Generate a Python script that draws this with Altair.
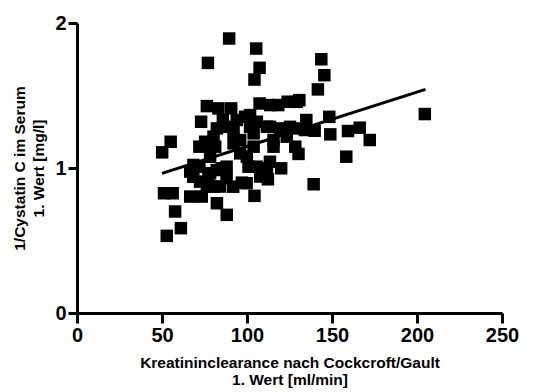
import altair as alt
import pandas as pd

# Scatter points: creatinine clearance (x) vs 1/Cystatin C (y)
clearance = [89.5, 105.4, 77.0, 107.4, 104.4, 143.7, 145.5, 141.7, 204.6, 50.1,
             55.1, 73.0, 76.4, 83.2, 90.7, 107.4, 113.7, 123.9, 130.8, 98.9,
             105.8, 134.9, 148.4, 149.0, 139.8, 159.4, 166.3, 172.2, 158.4, 139.2,
             128.4, 130.3, 120.1, 111.7, 112.3, 104.4, 97.0, 88.1, 82.3, 84.2,
             85.2, 51.2, 56.3, 57.7, 61.1, 52.8, 66.6, 73.4, 66.6, 72.0,
             72.4, 76.4, 72.0, 75.4, 80.3, 82.3, 85.8, 94.0, 92.1, 96.0,
             99.9, 100.9, 103.9, 111.7, 115.6, 119.5, 115.6, 107.8, 78.3, 81.3,
             92.1, 103.9, 78.3, 68.5, 127.4, 123.4, 96.0,
             88.0, 101.8, 101.8, 113.5, 125.3, 134.0, 77.3, 88.0, 105.7, 113.5,
             99.8, 91.9, 88.0, 77.3, 82.2, 80.2, 68.4, 118.4, 129.2]
inv_cystatin = [1.893, 1.824, 1.725, 1.691, 1.610, 1.750, 1.640, 1.542, 1.372, 1.108,
                1.181, 1.319, 1.427, 1.411, 1.411, 1.445, 1.434, 1.457, 1.468, 1.353,
                1.319, 1.331, 1.353, 1.232, 1.257, 1.255, 1.278, 1.193, 1.078, 0.888,
                1.147, 1.097, 0.998, 0.998, 0.922, 0.808, 0.899, 0.677, 0.757, 0.872,
                0.998, 0.826, 0.826, 0.700, 0.585, 0.532, 0.803, 0.803, 0.975, 1.009,
                0.906, 0.872, 1.147, 1.181, 1.216, 1.273, 1.331, 1.331, 1.170, 1.101,
                1.078, 1.009, 1.147, 1.285, 1.193, 1.273, 1.147, 0.941, 1.078, 1.147,
                1.250, 1.239, 0.964, 1.021, 1.273, 1.216, 1.193,
                1.284, 1.365, 1.284, 1.284, 1.284, 1.262, 1.158, 1.009, 1.009, 1.043,
                0.895, 0.871, 0.929, 0.952, 0.986, 0.871, 0.940, 1.434, 1.456]

# Regression line endpoints
fit_x = [50.0, 205.0]
fit_y = [0.963, 1.542]

x_ticks = [0, 50, 100, 150, 200, 250]
y_ticks = [0, 1, 2]

pts = pd.DataFrame({"x": clearance, "y": inv_cystatin})
fit = pd.DataFrame({"x": fit_x, "y": fit_y})

FONT = "Liberation Sans"

x_enc = alt.X(
    "x:Q",
    scale=alt.Scale(domain=[0, 250], nice=False, zero=False),
    axis=alt.Axis(
        values=x_ticks, labelExpr="format(datum.value, '.0f')", labelOverlap=False,
        title=["Kreatininclearance nach Cockcroft/Gault", "1. Wert [ml/min]"],
        titleFont=FONT, titleFontSize=15.5, titleFontWeight="bold", titleColor="black",
        titleLineHeight=17, titlePadding=10,
        labelFont=FONT, labelFontSize=20, labelFontWeight="bold", labelColor="black",
        labelPadding=2, labelFlush=False,
        domainColor="black", domainWidth=3, tickColor="black", tickWidth=3, tickSize=10,
        grid=False,
    ),
)
y_enc = alt.Y(
    "y:Q",
    scale=alt.Scale(domain=[0, 2], nice=False, zero=False),
    axis=alt.Axis(
        values=y_ticks, labelExpr="format(datum.value, '.0f')", labelOverlap=False,
        title=["1/Cystatin C im Serum", "1. Wert [mg/l]"],
        titleFont=FONT, titleFontSize=15.5, titleFontWeight="bold", titleColor="black",
        titleLineHeight=19, titlePadding=8,
        labelFont=FONT, labelFontSize=20, labelFontWeight="bold", labelColor="black",
        labelPadding=2, labelFlush=False,
        domainColor="black", domainWidth=3, tickColor="black", tickWidth=3, tickSize=9,
        grid=False,
    ),
)

points = alt.Chart(pts).mark_point(shape="square", filled=True, size=156, color="black", opacity=1).encode(
    x=x_enc, y=y_enc
)
line = alt.Chart(fit).mark_line(color="black", strokeWidth=3).encode(x="x:Q", y="y:Q")

chart = (
    alt.layer(points, line)
    .properties(
        width=425, height=290,
        padding={"left": 77, "top": 23, "right": 36, "bottom": 79},
        autosize=alt.AutoSizeParams(type="none"),
        background="white",
    )
    .configure_view(stroke=None)
)

chart.save("out.html", embed_options={"renderer": "svg", "actions": False})
